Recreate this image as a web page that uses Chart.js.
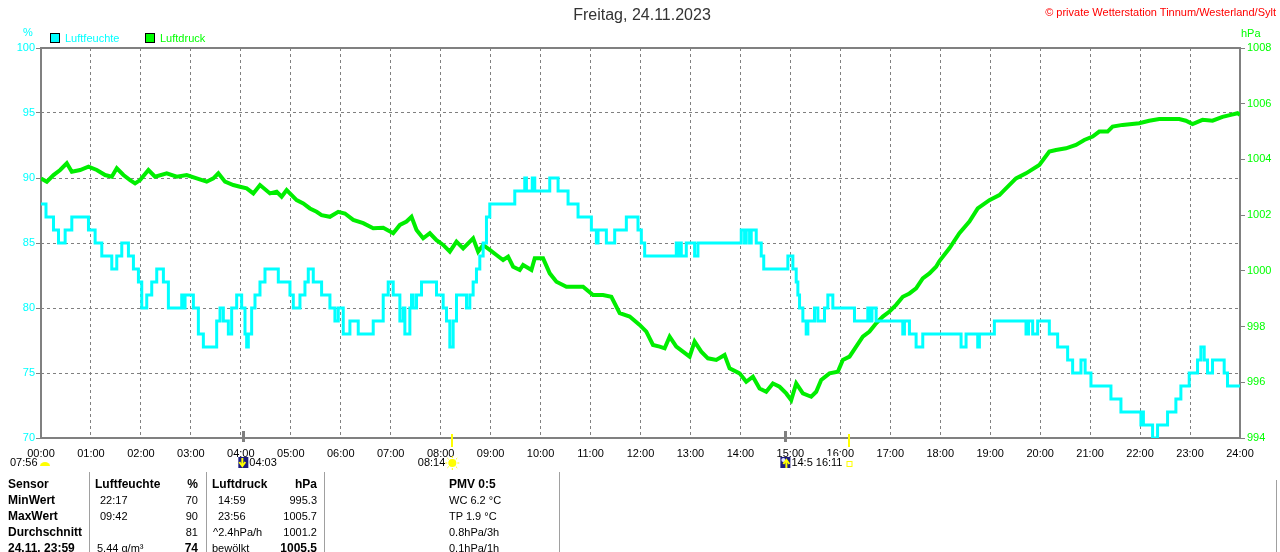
<!DOCTYPE html>
<html>
<head>
<meta charset="utf-8">
<script src="https://cdn.jsdelivr.net/npm/chart.js@4.4.0/dist/chart.umd.min.js"></script>
<style>
body{margin:0;background:#fff;}
#wrap{position:relative;width:1280px;height:552px;overflow:hidden;font-family:"Liberation Sans",Arial,sans-serif;}
#wrap canvas{position:absolute;left:0;top:0;}
.t{position:absolute;white-space:nowrap;font-size:11px;line-height:16px;color:#000;}
.b{font-weight:bold;font-size:12px;}
.vl{position:absolute;width:1px;background:#a0a0a0;}
.sq{position:absolute;width:10px;height:10px;box-sizing:border-box;border:1px solid #000;}
</style>
</head>
<body>
<div id="wrap">
<canvas id="canvas" width="1280" height="552"></canvas>

<div class="t" style="left:0;width:1284px;text-align:center;top:6px;font-size:16px;line-height:18px;color:#333;">Freitag, 24.11.2023</div>
<div class="t" style="right:4px;top:4px;color:#ff0000;">© private Wetterstation Tinnum/Westerland/Sylt</div>
<div class="t" style="left:23px;top:24px;color:#00ffff;">%</div>
<div class="t" style="left:1241px;top:25px;color:#00ff00;">hPa</div>
<div class="sq" style="left:50px;top:33px;background:#00ffff;"></div>
<div class="t" style="left:65px;top:30px;color:#00ffff;">Luftfeuchte</div>
<div class="sq" style="left:145px;top:33px;background:#00ff00;"></div>
<div class="t" style="left:160px;top:30px;color:#00ff00;">Luftdruck</div>

<div class="vl" style="left:89px;top:472px;height:80px;"></div>
<div class="vl" style="left:206px;top:472px;height:80px;"></div>
<div class="vl" style="left:324px;top:472px;height:80px;"></div>
<div class="vl" style="left:559px;top:472px;height:80px;"></div>
<div class="vl" style="left:1276px;top:480px;height:72px;"></div>

<div class="t b" style="left:8px;top:476px;">Sensor</div>
<div class="t b" style="left:95px;top:476px;">Luftfeuchte</div>
<div class="t b" style="right:1082px;top:476px;">%</div>
<div class="t b" style="left:212px;top:476px;">Luftdruck</div>
<div class="t b" style="right:963px;top:476px;">hPa</div>
<div class="t b" style="left:449px;top:476px;">PMV 0:5</div>

<div class="t b" style="left:8px;top:492px;">MinWert</div>
<div class="t" style="left:100px;top:492px;">22:17</div>
<div class="t" style="right:1082px;top:492px;">70</div>
<div class="t" style="left:218px;top:492px;">14:59</div>
<div class="t" style="right:963px;top:492px;">995.3</div>
<div class="t" style="left:449px;top:492px;">WC 6.2 °C</div>

<div class="t b" style="left:8px;top:508px;">MaxWert</div>
<div class="t" style="left:100px;top:508px;">09:42</div>
<div class="t" style="right:1082px;top:508px;">90</div>
<div class="t" style="left:218px;top:508px;">23:56</div>
<div class="t" style="right:963px;top:508px;">1005.7</div>
<div class="t" style="left:449px;top:508px;">TP 1.9 °C</div>

<div class="t b" style="left:8px;top:524px;">Durchschnitt</div>
<div class="t" style="right:1082px;top:524px;">81</div>
<div class="t" style="left:213px;top:524px;">^2.4hPa/h</div>
<div class="t" style="right:963px;top:524px;">1001.2</div>
<div class="t" style="left:449px;top:524px;">0.8hPa/3h</div>

<div class="t b" style="left:8px;top:540px;">24.11. 23:59</div>
<div class="t" style="left:97px;top:540px;">5.44 g/m³</div>
<div class="t b" style="right:1082px;top:540px;">74</div>
<div class="t" style="left:212px;top:540px;">bewölkt</div>
<div class="t b" style="right:963px;top:540px;">1005.5</div>
<div class="t" style="left:449px;top:540px;">0.1hPa/1h</div>
</div>

<script>
// minutes since midnight where humidity changes, and the new value (%)
var humTimes = [0,6,15,21,29,37,57,65,73,85,91,97,105,111,117,121,127,133,139,147,153,169,171,173,183,189,195,211,215,219,225,229,235,241,245,247,249,253,257,263,269,285,299,303,311,317,321,327,337,347,353,357,363,371,381,399,411,417,423,431,435,437,443,445,447,451,457,475,483,487,491,495,499,511,515,519,523,527,531,535,539,569,581,583,590,593,611,621,633,645,661,667,669,679,689,703,717,721,725,763,765,767,769,775,785,789,841,845,847,851,853,859,865,868,897,903,907,909,911,915,919,921,929,933,941,945,951,977,993,996,998,1003,1035,1037,1043,1051,1059,1105,1111,1125,1127,1145,1183,1186,1191,1197,1211,1221,1233,1239,1249,1254,1261,1285,1297,1321,1322,1324,1335,1341,1353,1363,1369,1379,1389,1393,1397,1401,1407,1421,1425,1440];
var humValues = [88,87,86,85,86,87,86,85,84,83,84,85,84,83,82,80,81,82,83,82,80,81,80,81,80,78,77,79,80,79,78,80,81,80,78,77,78,80,81,82,83,82,81,80,81,82,83,82,81,80,79,80,78,79,78,79,81,82,81,79,80,78,80,81,80,81,82,81,80,79,77,79,81,80,81,82,83,84,85,87,88,89,90,89,90,89,90,89,88,87,86,85,86,85,86,87,86,85,84,85,84,85,84,85,84,85,86,85,86,85,86,85,84,83,84,83,82,81,80,79,78,79,80,79,80,81,80,79,80,79,80,79,78,79,78,77,78,77,78,77,78,79,78,79,78,79,78,77,76,75,76,75,74,73,72,71,72,71,70,71,72,73,74,75,76,77,76,75,76,75,74,74];

// pressure (minute, hPa)
var presTimes = [0,7,15,23,31,37,47,57,67,77,85,91,99,107,113,119,129,137,151,163,175,187,199,207,213,221,231,239,247,255,263,275,283,289,295,307,315,323,331,337,347,357,365,375,387,399,411,423,431,439,445,451,459,467,475,483,491,499,507,519,525,531,539,547,555,561,567,575,579,589,593,603,611,619,631,651,663,675,685,695,707,719,727,735,743,749,755,763,771,779,785,793,801,811,821,827,839,847,855,863,871,879,887,895,901,907,915,925,931,937,947,957,963,971,979,987,995,1003,1011,1019,1027,1035,1043,1051,1059,1067,1075,1079,1091,1103,1115,1125,1139,1151,1159,1171,1183,1199,1211,1219,1231,1243,1253,1263,1271,1281,1287,1299,1319,1331,1343,1367,1375,1383,1395,1407,1419,1429,1437,1440];
var presValues = [1003.32,1003.2,1003.44,1003.62,1003.86,1003.56,1003.62,1003.74,1003.62,1003.44,1003.38,1003.68,1003.44,1003.26,1003.14,1003.26,1003.62,1003.38,1003.5,1003.38,1003.44,1003.32,1003.2,1003.32,1003.5,1003.2,1003.08,1003.02,1002.96,1002.78,1003.08,1002.78,1002.84,1002.66,1002.9,1002.54,1002.42,1002.24,1002.12,1002.0,1001.94,1002.12,1002.06,1001.83,1001.71,1001.53,1001.55,1001.35,1001.65,1001.77,1001.94,1001.47,1001.17,1001.35,1001.1,1000.93,1000.69,1001.05,1000.81,1001.17,1000.69,1000.93,1000.75,1000.57,1000.39,1000.51,1000.15,1000.03,1000.21,1000.03,1000.45,1000.45,999.91,999.61,999.43,999.43,999.13,999.13,999.07,998.48,998.36,998.06,997.82,997.34,997.28,997.22,997.64,997.28,997.1,996.92,997.46,997.1,996.86,996.8,996.98,996.5,996.32,996.02,996.2,995.78,995.66,995.96,995.84,995.6,995.36,995.96,995.6,995.48,995.66,996.08,996.32,996.38,996.8,996.92,997.28,997.64,997.82,998.12,998.36,998.54,998.78,999.07,999.19,999.37,999.73,999.91,1000.15,1000.35,1000.81,1001.35,1001.77,1002.24,1002.54,1002.72,1002.96,1003.32,1003.5,1003.8,1004.28,1004.34,1004.4,1004.52,1004.7,1004.82,1005.0,1005.0,1005.18,1005.24,1005.3,1005.39,1005.45,1005.45,1005.39,1005.27,1005.42,1005.39,1005.53,1005.6,1005.66,1005.6];

// sun / moon events (minutes) shown under the x axis
var dawn = 476, moonRise = 243, sunRise = 494, moonSet = 894, sunSet = 971;
var eventLabels = ['07:56', '04:03', '08:14', '14:5', '16:11'];

function pts(t, v) {
    var out = [];
    for (var i = 0; i < t.length; i++) out.push({x: t[i], y: v[i]});
    return out;
}
function hh(m) {
    var h = Math.round(m / 60);
    return (h < 10 ? '0' : '') + h + ':00';
}
function plain(v) { return String(v); }

var fnt = {family: '"Liberation Sans", Arial, sans-serif', size: 11};

var overlay = {
    id: 'overlay',
    beforeDatasetsDraw: function(chart) {
        var ctx = chart.ctx, a = chart.chartArea;
        ctx.save();
        ctx.strokeStyle = '#808080';
        ctx.lineWidth = 2;
        ctx.strokeRect(a.left, a.top, a.right - a.left, a.bottom - a.top);
        ctx.restore();
    },
    afterDraw: function(chart) {
        var ctx = chart.ctx, xs = chart.scales.x;
        var b = chart.chartArea.bottom;
        ctx.save();
        // moon marks
        ctx.strokeStyle = '#808080';
        ctx.lineWidth = 3;
        [moonRise, moonSet].forEach(function(m) {
            var px = Math.round(xs.getPixelForValue(m)) + 0.5;
            ctx.beginPath(); ctx.moveTo(px, b - 7); ctx.lineTo(px, b + 4); ctx.stroke();
        });
        // sun marks
        ctx.strokeStyle = '#ffff00';
        ctx.lineWidth = 2;
        [sunRise, sunSet].forEach(function(m) {
            var px = Math.round(xs.getPixelForValue(m));
            ctx.beginPath(); ctx.moveTo(px, b - 4); ctx.lineTo(px, b + 9); ctx.stroke();
        });

        var y = 463;
        ctx.font = '11px "Liberation Sans", Arial, sans-serif';
        ctx.fillStyle = '#000';
        ctx.textBaseline = 'middle';

        // dawn
        ctx.textAlign = 'left';
        ctx.fillText(eventLabels[0], 10, y);
        ctx.fillStyle = '#ffff00';
        ctx.beginPath(); ctx.ellipse(45, 466, 5, 4, 0, Math.PI, 0); ctx.fill();

        // moon rise
        var mr = xs.getPixelForValue(moonRise);
        ctx.fillStyle = '#1c1c80';
        ctx.fillRect(mr - 5, 457, 10, 11);
        ctx.strokeStyle = '#ffff00'; ctx.lineWidth = 2;
        ctx.beginPath(); ctx.moveTo(mr - 1, 458); ctx.lineTo(mr - 1, 465); ctx.stroke();
        ctx.beginPath(); ctx.moveTo(mr - 4, 462); ctx.lineTo(mr - 1, 466); ctx.lineTo(mr + 2, 462); ctx.stroke();
        ctx.fillStyle = '#000';
        ctx.fillText(eventLabels[1], mr + 6, y);

        // sun rise
        var sr = xs.getPixelForValue(sunRise);
        ctx.textAlign = 'right';
        ctx.fillText(eventLabels[2], sr - 7, y);
        ctx.fillStyle = '#ffff00';
        ctx.beginPath(); ctx.arc(sr, y, 4, 0, Math.PI * 2); ctx.fill();
        ctx.strokeStyle = '#ffff00'; ctx.lineWidth = 1;
        for (var k = 0; k < 8; k++) {
            var an = k * Math.PI / 4;
            ctx.beginPath();
            ctx.moveTo(sr + Math.cos(an) * 5, y + Math.sin(an) * 5);
            ctx.lineTo(sr + Math.cos(an) * 7, y + Math.sin(an) * 7);
            ctx.stroke();
        }

        // moon set
        var ms = xs.getPixelForValue(moonSet);
        ctx.fillStyle = '#1c1c80';
        ctx.fillRect(ms - 5, 457, 10, 11);
        ctx.fillStyle = '#e0e0ff';
        ctx.beginPath(); ctx.arc(ms - 2, 460, 2, 0, Math.PI * 2); ctx.fill();
        ctx.strokeStyle = '#ffff00'; ctx.lineWidth = 2;
        ctx.beginPath(); ctx.moveTo(ms + 1, 468); ctx.lineTo(ms + 1, 461); ctx.stroke();
        ctx.beginPath(); ctx.moveTo(ms - 2, 464); ctx.lineTo(ms + 1, 460); ctx.lineTo(ms + 4, 464); ctx.stroke();
        ctx.fillStyle = '#000';
        ctx.textAlign = 'left';
        ctx.fillText(eventLabels[3], ms + 6, y);

        // sun set
        var ss = xs.getPixelForValue(sunSet);
        ctx.textAlign = 'right';
        ctx.fillStyle = '#fff';
        ctx.fillRect(ss - 34, 456, 28, 14);
        ctx.fillStyle = '#000';
        ctx.fillText(eventLabels[4], ss - 7, y);
        ctx.strokeStyle = '#ffff00'; ctx.lineWidth = 1;
        ctx.strokeRect(ss - 2.5, 461.5, 5, 5);
        ctx.restore();
    }
};

var ctx = document.getElementById('canvas').getContext('2d');
var myChart = new Chart(ctx, {
    type: 'line',
    data: {
        datasets: [{
            label: 'Luftfeuchte',
            data: pts(humTimes, humValues),
            yAxisID: 'y',
            stepped: true,
            borderColor: '#00ffff',
            backgroundColor: 'transparent',
            borderWidth: 3,
            pointRadius: 0
        }, {
            label: 'Luftdruck',
            data: pts(presTimes, presValues),
            yAxisID: 'y1',
            borderColor: '#00ee00',
            backgroundColor: 'transparent',
            borderWidth: 4,
            pointRadius: 0
        }]
    },
    options: {
        responsive: false,
        maintainAspectRatio: false,
        animation: false,
        devicePixelRatio: 1,
        layout: {padding: {top: 48, left: 0, right: 0, bottom: 0}},
        plugins: {legend: {display: false}, tooltip: {enabled: false}},
        scales: {
            x: {
                type: 'linear',
                min: 0, max: 1440,
                afterFit: function(s) { s.height = 114; },
                ticks: {stepSize: 60, autoSkip: false, maxRotation: 0, padding: 9, color: '#000', font: fnt, callback: hh},
                grid: {color: '#808080', lineWidth: 1, drawTicks: false},
                border: {display: false, dash: [3, 3]}
            },
            y: {
                position: 'left',
                min: 70, max: 100,
                afterFit: function(s) { s.width = 41; },
                ticks: {stepSize: 5, padding: 1, color: '#00ffff', font: fnt, callback: plain},
                grid: {color: '#808080', lineWidth: 1, drawTicks: true, tickLength: 5, tickColor: '#808080', tickBorderDash: []},
                border: {display: false, dash: [3, 3]}
            },
            y1: {
                position: 'right',
                min: 994, max: 1008,
                afterFit: function(s) { s.width = 40; },
                ticks: {stepSize: 2, padding: 2, color: '#00ff00', font: fnt, callback: plain},
                grid: {drawOnChartArea: false, drawTicks: true, tickLength: 5, color: '#808080', tickColor: '#808080'},
                border: {display: false}
            }
        }
    },
    plugins: [overlay]
});
</script>
</body>
</html>
